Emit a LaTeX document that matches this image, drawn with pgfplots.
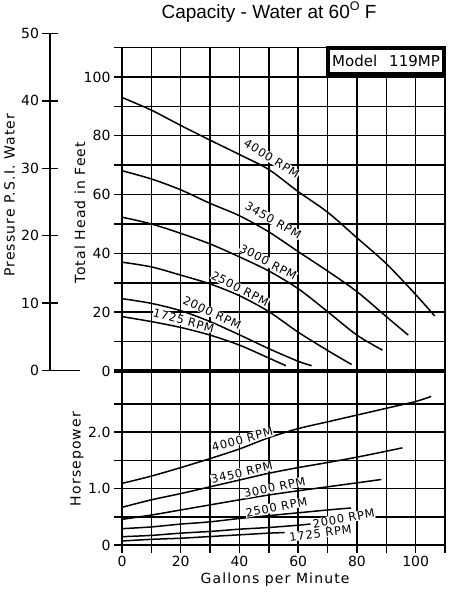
\documentclass[border=0pt]{standalone}
\usepackage{pgfplots}
\pgfplotsset{compat=1.18}
\usepackage{fontspec}
\setmainfont{DejaVu Sans}
\newfontfamily\titlefont{Liberation Sans}
\newfontfamily\lblfont[LetterSpace=8]{DejaVu Sans}
\newfontfamily\rpmfont[LetterSpace=7]{DejaVu Sans}

\pgfplotsset{
  gridbase/.style={
    scale only axis, width=323pt, xmin=0, xmax=110,
    xtick={0,20,...,100}, minor xtick={10,30,...,110},
    grid=both,
    major grid style={line width=1.5pt, black},
    minor grid style={line width=1.5pt, black},
    axis line style={line width=1.5pt},
    tick align=outside, major tick length=8pt, minor tick length=8pt,
    tick style={black, line width=1.5pt},
    xtick pos=bottom, ytick pos=left,
    ticklabel style={font=\fontsize{14}{14}\selectfont},
    label style={font=\lblfont\fontsize{14}{14}\selectfont},
    /pgf/number format/assume math mode=true,
    clip=false,
  },
  curve/.style={black, line width=1.5pt, no marks, smooth},
}
\tikzset{rpm/.style={font=\rpmfont\fontsize{11.5}{11.5}\selectfont, fill=white, inner sep=0.4pt}}

\begin{document}
\begin{tikzpicture}
\path[use as bounding box] (0pt,0pt) rectangle (453pt,592pt);

% Title
\node[font=\titlefont\fontsize{19}{19}\selectfont, anchor=base] at (269pt,573.7pt)
  {Capacity - Water at 60{\fontsize{12.5}{12.5}\selectfont\raisebox{0.6em}{O}} F};

% Pressure axis
\begin{axis}[scale only axis, at={(50pt,221.5pt)}, anchor=south west,
  width=30pt, height=337pt, xmin=0, xmax=30, ymin=0, ymax=50,
  axis x line=bottom, axis y line=left,
  axis line style={-, line width=1.5pt},
  xtick=\empty, ytick={0,10,...,50},
  tick align=center, major tick length=15pt,
  tick style={black, line width=1.5pt},
  ticklabel style={font=\fontsize{14}{14}\selectfont},
  /pgf/number format/assume math mode=true,
  ylabel={Pressure P.S.I. Water},
  label style={font=\lblfont\fontsize{14}{14}\selectfont},
  ylabel style={at={(axis description cs:-1.35,0.52)}, anchor=center},
  clip=false]
\end{axis}

% Horsepower axis
\begin{axis}[gridbase, at={(122pt,47pt)}, anchor=south west,
  height=174pt, ymin=0, ymax=3.08,
  ytick={0,1,2}, yticklabels={0,1.0,2.0}, minor ytick={0.5,1.5,2.5},
  xlabel={Gallons per Minute}, ylabel={Horsepower},
  xlabel style={at={(axis description cs:0.474,-0.2)}, anchor=center},
  ylabel style={at={(axis description cs:-0.139,0.494)}, anchor=center}]
\addplot[curve] coordinates {(0,1.09) (10,1.22) (20,1.37) (30,1.53) (40,1.70) (50,1.90) (60,2.06) (70,2.18) (80,2.30) (90,2.42) (100,2.54) (105.3,2.63)};
\addplot[curve] coordinates {(0,0.667) (10,0.80) (20,0.91) (30,1.03) (40,1.15) (50,1.27) (60,1.37) (70,1.46) (80,1.555) (90,1.66) (95.5,1.72)};
\addplot[curve] coordinates {(0,0.454) (10,0.53) (20,0.62) (30,0.71) (40,0.80) (50,0.885) (60,0.96) (70,1.03) (80,1.10) (88.3,1.16)};
\addplot[curve] coordinates {(0,0.289) (10,0.32) (20,0.37) (30,0.41) (40,0.47) (50,0.52) (60,0.57) (70,0.62) (78,0.655)};
\addplot[curve] coordinates {(0,0.147) (10,0.17) (20,0.21) (30,0.24) (40,0.28) (50,0.31) (60,0.35) (64.2,0.372)};
\addplot[curve] coordinates {(0,0.071) (10,0.10) (20,0.12) (30,0.15) (40,0.18) (50,0.21) (55.4,0.22)};
\node[rpm, rotate=15] at (axis cs:41,1.87) {4000 RPM};
\node[rpm, rotate=13] at (axis cs:40.8,1.28) {3450 RPM};
\node[rpm, rotate=12] at (axis cs:52,1.02) {3000 RPM};
\node[rpm, rotate=11] at (axis cs:52.6,0.67) {2500 RPM};
\node[rpm, rotate=10] at (axis cs:75.5,0.47) {2000 RPM};
\node[rpm, rotate=7] at (axis cs:67.6,0.21) {1725 RPM};
\end{axis}

% Head axis
\begin{axis}[gridbase, at={(122pt,221pt)}, anchor=south west,
  height=323.5pt, ymin=0, ymax=110,
  ytick={0,20,...,100}, minor ytick={10,30,...,110},
  xticklabels={},
  ylabel={Total Head in Feet},
  ylabel style={at={(axis description cs:-0.13,0.49)}, anchor=center}]
\addplot[curve] coordinates {(0,93) (10,88.7) (20,83.5) (30,78.5) (40,73.6) (50,68.5) (60,61) (70,54) (80,45.3) (90,36.5) (100,26) (106.5,18.7)};
\addplot[curve] coordinates {(0,68.1) (10,65.3) (20,61.6) (30,57) (40,52.8) (50,47.3) (60,40.6) (70,34) (80,27) (90,18.5) (97.5,12.2)};
\addplot[curve] coordinates {(0,52.3) (10,50) (20,46.8) (30,43.2) (40,38.8) (50,34) (60,28) (70,20.2) (80,12.2) (88.7,7.1)};
\addplot[curve] coordinates {(0,37) (10,35.4) (20,32.6) (30,29.6) (40,25.6) (50,20.2) (60,13.2) (70,7) (78.2,2.2)};
\addplot[curve] coordinates {(0,24.6) (10,23) (20,20.5) (30,16.8) (40,12.3) (50,7.6) (60,3.3) (64.6,1.8)};
\addplot[curve] coordinates {(0,18.5) (10,16.8) (20,14.8) (30,12.2) (40,8.8) (50,4.4) (55.8,1.8)};
\node[rpm, rotate=-32] at (axis cs:51,72.2) {4000 RPM};
\node[rpm, rotate=-30] at (axis cs:51.5,51.3) {3450 RPM};
\node[rpm, rotate=-28] at (axis cs:49.8,37) {3000 RPM};
\node[rpm, rotate=-27] at (axis cs:40.2,28) {2500 RPM};
\node[rpm, rotate=-25] at (axis cs:30.7,19.8) {2000 RPM};
\node[rpm, rotate=-15] at (axis cs:21,17.1) {1725 RPM};
\draw[line width=4.5pt] (axis cs:-2.8,0) -- (axis cs:110.5,0);
\node[draw, line width=4pt, fill=white, anchor=north east, minimum width=116pt,
  minimum height=26pt, inner sep=0pt, font=\fontsize{15}{15}\selectfont]
  at ([xshift=1pt,yshift=0pt]axis cs:110,110.5) {Model\hspace{0.8em}119MP};
\end{axis}
\end{tikzpicture}
\end{document}
